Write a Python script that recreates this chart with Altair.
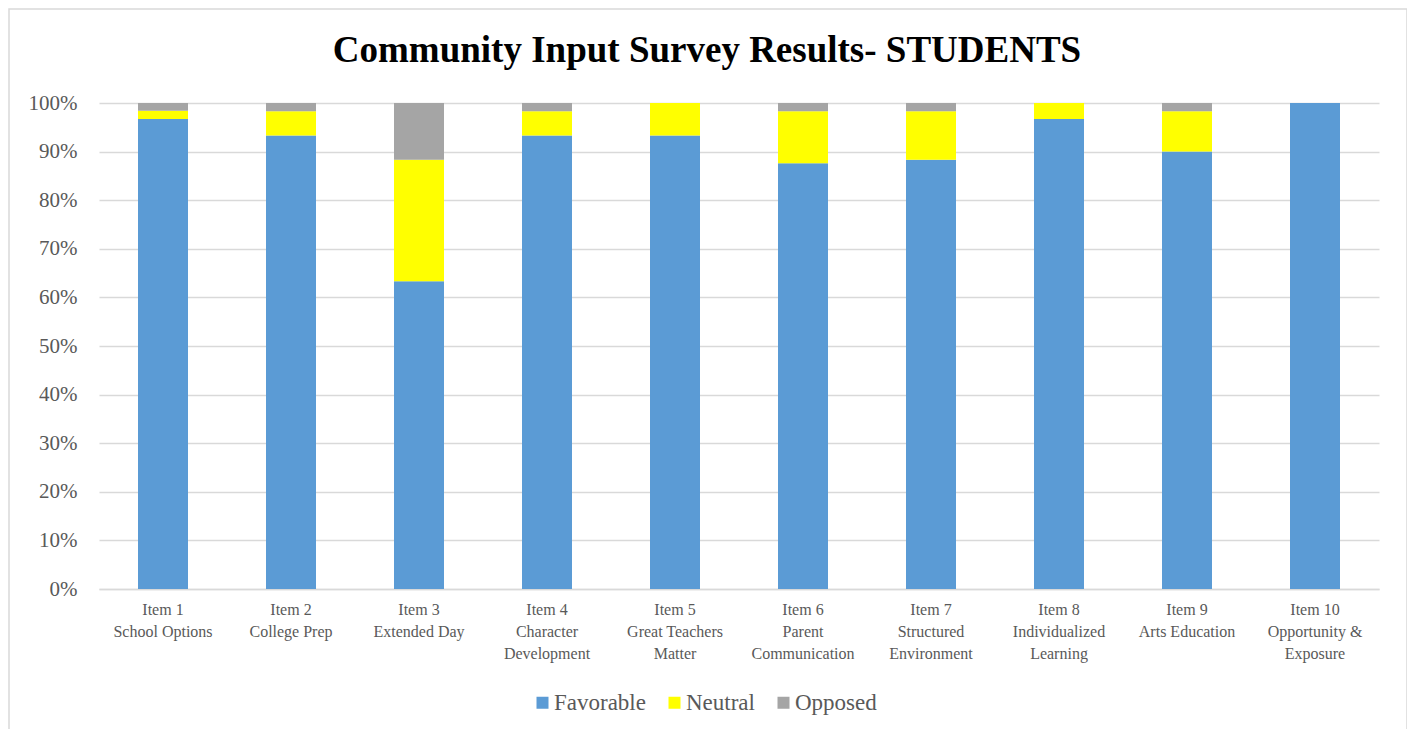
import altair as alt
import pandas as pd

chart_title = "Community Input Survey Results- STUDENTS"
categories = [
    "Item 1|School Options",
    "Item 2|College Prep",
    "Item 3|Extended Day",
    "Item 4|Character|Development",
    "Item 5|Great Teachers|Matter",
    "Item 6|Parent|Communication",
    "Item 7|Structured|Environment",
    "Item 8|Individualized|Learning",
    "Item 9|Arts Education",
    "Item 10|Opportunity &|Exposure",
]
favorable = [96.7, 93.3, 63.3, 93.3, 93.3, 87.6, 88.3, 96.7, 90.0, 100.0]
neutral = [1.7, 5.0, 25.0, 5.0, 6.7, 10.7, 10.0, 3.3, 8.3, 0.0]
opposed = [1.6, 1.7, 11.7, 1.7, 0.0, 1.7, 1.7, 0.0, 1.7, 0.0]

series = ["Favorable", "Neutral", "Opposed"]
colors = ["#5B9BD5", "#FFFF00", "#A5A5A5"]

rows = []
for i, cat in enumerate(categories):
    for k, (name, vals) in enumerate(zip(series, [favorable, neutral, opposed])):
        rows.append({"item": cat, "series": name, "value": vals[i] / 100.0, "ord": k})
df = pd.DataFrame(rows)

FONT = "Liberation Serif"
GRAY = "#595959"

bars = alt.Chart(df).mark_bar(size=50).encode(
    x=alt.X(
        "item:N",
        sort=categories,
        title=None,
        scale=alt.Scale(paddingInner=0.6, paddingOuter=0.3),
        axis=alt.Axis(
            labelExpr="split(datum.label, '|')",
            labelAngle=0,
            labelFont=FONT,
            labelFontSize=16,
            labelColor=GRAY,
            labelLineHeight=22,
            labelPadding=12,
            ticks=False,
            domainColor="#d9d9d9",
            domainWidth=1.5,
            grid=False,
            labelBaseline="top",
        ),
    ),
    y=alt.Y(
        "value:Q",
        stack="zero",
        title=None,
        scale=alt.Scale(domain=[0, 1], nice=False),
        axis=alt.Axis(
            values=[0, 0.1, 0.2, 0.3, 0.4, 0.5, 0.6, 0.7, 0.8, 0.9, 1.0],
            format=".0%",
            labelFont=FONT,
            labelFontSize=21,
            labelColor=GRAY,
            labelPadding=22,
            ticks=False,
            domain=False,
            gridColor="#d9d9d9",
            gridWidth=1.5,
        ),
    ),
    color=alt.Color(
        "series:N",
        scale=alt.Scale(domain=series, range=colors),
        legend=alt.Legend(
            title=None,
            orient="none",
            direction="horizontal",
            legendX=432,
            legendY=588,
            symbolType="square",
            symbolSize=144,
            symbolStrokeWidth=0,
            labelFont=FONT,
            labelFontSize=23,
            labelColor=GRAY,
            labelOffset=0,
            columnPadding=17,
        ),
    ),
    order=alt.Order("ord:Q", sort="ascending"),
)

frame = alt.Chart(pd.DataFrame({"a": [0]})).mark_rect(
    fill=None, stroke="#d9d9d9", strokeWidth=1.5
).encode(
    x=alt.value(-90),
    x2=alt.value(1308),
    y=alt.value(-94),
    y2=alt.value(700),
)

title_text = alt.Chart(pd.DataFrame({"t": [chart_title]})).mark_text(
    font=FONT,
    fontSize=37,
    fontWeight="bold",
    color="black",
    align="center",
    baseline="alphabetic",
).encode(
    text="t:N",
    x=alt.value(608),
    y=alt.value(-41),
)

chart = alt.layer(frame, title_text, bars).properties(
    width=1280,
    height=486,
    autosize=alt.AutoSizeParams(type="none"),
    padding={"left": 91, "top": 95, "right": 28, "bottom": 140},
).configure_view(stroke=None)

chart.save("out.html", embed_options={"renderer": "svg", "actions": False})
